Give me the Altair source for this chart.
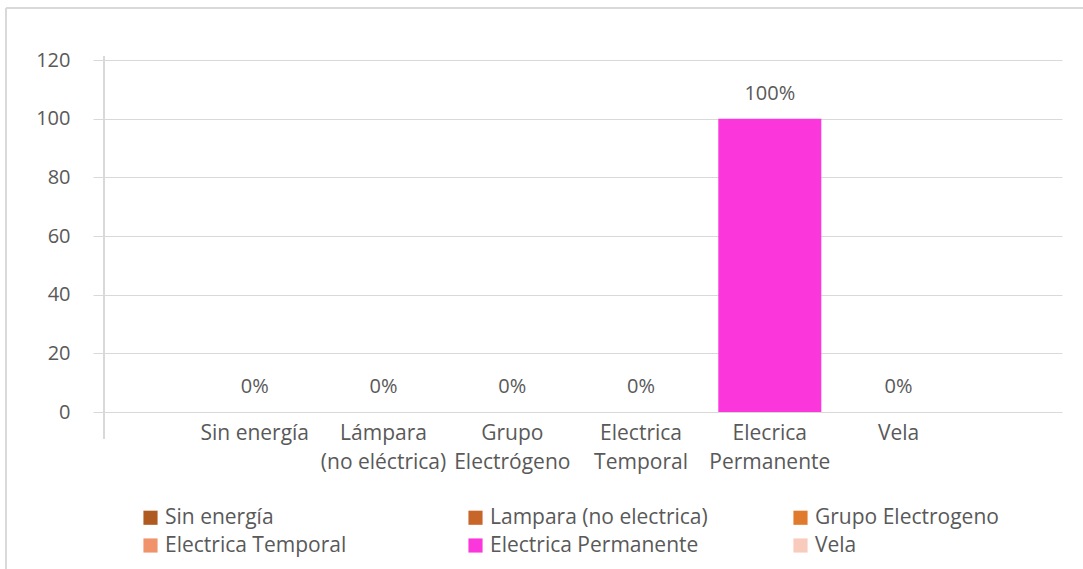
import altair as alt
import pandas as pd

# Category labels on the axis ("|" marks a line break)
categories = [
    "Sin energía",
    "Lámpara|(no eléctrica)",
    "Grupo|Electrógeno",
    "Electrica|Temporal",
    "Elecrica|Permanente",
    "Vela",
]
# Series names shown in the legend
series = [
    "Sin energía",
    "Lampara (no electrica)",
    "Grupo Electrogeno",
    "Electrica Temporal",
    "Electrica Permanente",
    "Vela",
]
values = [0, 0, 0, 0, 100, 0]
colors = ["#AE5A21", "#C8662A", "#E07B2D", "#F0936A", "#FB37DB", "#F8CBBD"]
y_ticks = [0, 20, 40, 60, 80, 100, 120]

FONT = "Open Sans"
TEXT = "#595959"
GRID = "#D9D9D9"

df = pd.DataFrame({"cat": categories, "serie": series, "valor": values})
df["etiqueta"] = df["valor"].astype(str) + "%"

x_enc = alt.X(
    "cat:N",
    sort=categories,
    scale=alt.Scale(paddingInner=0.2, paddingOuter=0.82, align=0.47),
    axis=alt.Axis(
        title=None,
        labelAngle=0,
        labelExpr="split(datum.label, '|')",
        labelFont=FONT,
        labelFontSize=21,
        labelColor=TEXT,
        labelLineHeight=29,
        labelPadding=10,
        domain=False,
        ticks=False,
        labelBaseline="top",
    ),
)
y_enc = alt.Y(
    "valor:Q",
    scale=alt.Scale(domain=[0, 120]),
    axis=alt.Axis(
        title=None,
        values=y_ticks,
        labelFont=FONT,
        labelFontSize=20,
        labelColor=TEXT,
        labelPadding=23,
        tickSize=11,
        tickColor=GRID,
        gridColor=GRID,
        domain=False,
    ),
)

bars = alt.Chart(df).mark_bar().encode(
    x=x_enc,
    y=y_enc,
    color=alt.Color(
        "serie:N",
        sort=series,
        scale=alt.Scale(domain=series, range=colors),
        legend=alt.Legend(
            title=None,
            orient="none",
            legendX=36,
            legendY=447,
            direction="horizontal",
            columns=3,
            gridAlign="all",
            columnPadding=82,
            rowPadding=6,
            symbolType="square",
            symbolSize=200,
            symbolStrokeWidth=0,
            symbolOffset=0,
            labelFont=FONT,
            labelFontSize=21,
            labelColor=TEXT,
            labelOffset=4,
            labelLimit=400,
        ),
    ),
)

labels = alt.Chart(df).mark_text(
    font=FONT, fontSize=20, color=TEXT, baseline="alphabetic", dy=-19
).encode(x=alt.X("cat:N", sort=categories), y="valor:Q", text="etiqueta:N")

# light frame around the chart and the left category boundary line
frame_top = alt.Chart(df).mark_rule(color=GRID, strokeWidth=2).encode(
    x=alt.value(-98), x2=alt.value(1000), y=alt.value(-52)
)
frame_left = alt.Chart(df).mark_rule(color=GRID, strokeWidth=2).encode(
    x=alt.value(-98), y=alt.value(-52), y2=alt.value(520)
)
cat_edge = alt.Chart(df).mark_rule(color=GRID, strokeWidth=1.5).encode(
    x=alt.value(0), y=alt.value(-4), y2=alt.value(379)
)

chart = (
    alt.layer(bars, labels, frame_top, frame_left, cat_edge)
    .properties(
        width=958,
        height=352,
        autosize=alt.AutoSizeParams(type="none"),
        padding={"left": 104, "top": 60, "right": 21, "bottom": 157},
        background="white",
    )
    .configure_view(stroke=None)
)

chart.save("out.html", embed_options={"renderer": "svg", "actions": False})
